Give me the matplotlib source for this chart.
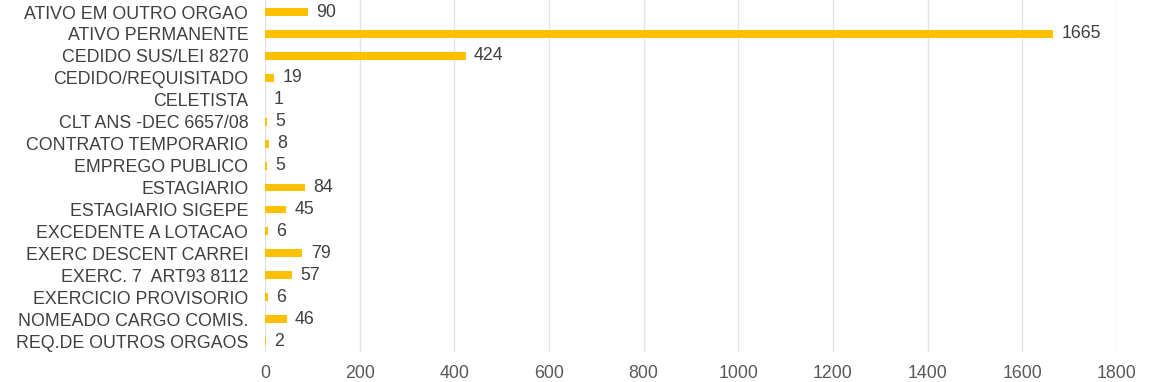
import matplotlib
matplotlib.use("Agg")
import matplotlib.pyplot as plt
import numpy as np

# Data
categories = [
    "ATIVO EM OUTRO ORGAO",
    "ATIVO PERMANENTE",
    "CEDIDO SUS/LEI 8270",
    "CEDIDO/REQUISITADO",
    "CELETISTA",
    "CLT ANS -DEC 6657/08",
    "CONTRATO TEMPORARIO",
    "EMPREGO PUBLICO",
    "ESTAGIARIO",
    "ESTAGIARIO SIGEPE",
    "EXCEDENTE A LOTACAO",
    "EXERC DESCENT CARREI",
    "EXERC. 7  ART93 8112",
    "EXERCICIO PROVISORIO",
    "NOMEADO CARGO COMIS.",
    "REQ.DE OUTROS ORGAOS",
]
values = [90, 1665, 424, 19, 1, 5, 8, 5, 84, 45, 6, 79, 57, 6, 46, 2]
x_ticks = list(range(0, 2000, 200))

plt.rcParams["font.family"] = ["Liberation Sans", "DejaVu Sans"]

fig = plt.figure(figsize=(11.5, 3.82), dpi=100)
ax = fig.add_axes([0.2304, 0.0785, 0.7409, 0.9215])

y = np.arange(len(categories))
bar_color = "#FFC000"
ax.barh(y, values, height=0.36, color=bar_color, zorder=3)

for yi, v in zip(y, values):
    ax.annotate(str(v), (v, yi), xytext=(6, 0), textcoords="offset points",
                va="center", ha="left", fontsize=12.8, color="#404040")

ax.set_yticks(y)
ax.set_yticklabels(categories, fontsize=12.8, color="#404040")
ax.set_xticks(x_ticks)
ax.set_xticklabels([str(t) for t in x_ticks], fontsize=12.8, color="#595959")
ax.set_xlim(0, 1800)
ax.set_ylim(15.5, -0.55)

ax.tick_params(axis="both", length=0)
ax.tick_params(axis="x", pad=9)
ax.tick_params(axis="y", pad=12)
ax.grid(axis="x", color="#E3E3E3", linewidth=1, zorder=0)
for s in ax.spines.values():
    s.set_visible(False)

fig.savefig("out.png", dpi=100)
